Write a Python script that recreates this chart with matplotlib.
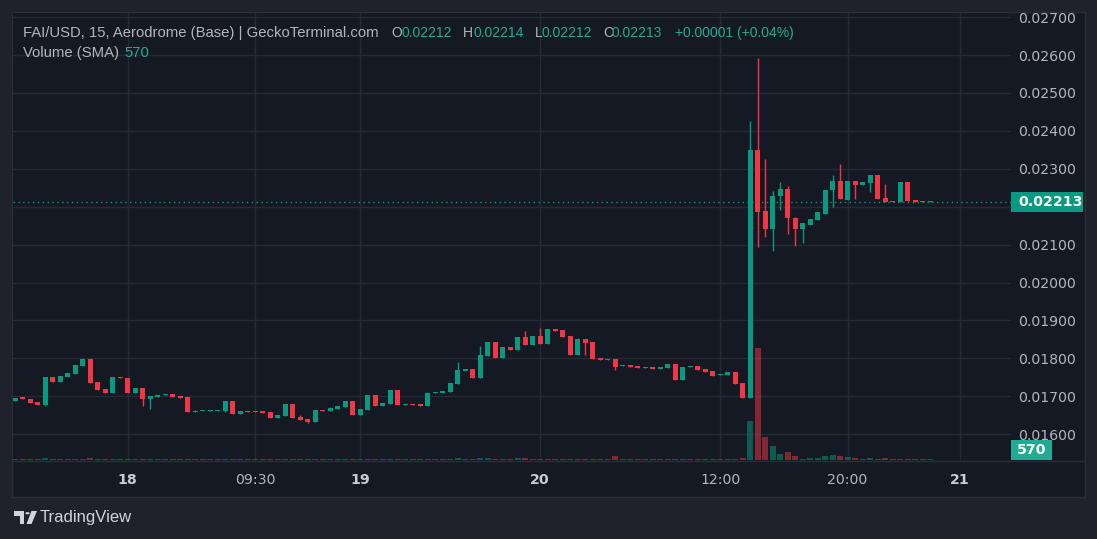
import numpy as np
import matplotlib.pyplot as plt
from matplotlib.patches import Rectangle, Polygon, Circle
from matplotlib.transforms import blended_transform_factory

W, H = 1097, 539

# FAI/USD 15 min candles, prices in 1e-5 USD, oldest first
opens = [1688, 1695, 1693, 1685, 1677, 1751, 1738, 1751, 1759, 1780,
         1798, 1738, 1719, 1709, 1751, 1748, 1709, 1722, 1693, 1699,
         1703, 1706, 1701, 1698, 1658, 1661, 1661, 1661, 1661, 1688,
         1653, 1661, 1661, 1658, 1658, 1643, 1648, 1680, 1645, 1640,
         1632, 1664, 1661, 1666, 1672, 1688, 1651, 1664, 1703, 1674,
         1680, 1717, 1677, 1680, 1680, 1674, 1708, 1708, 1711, 1732,
         1767, 1772, 1748, 1806, 1843, 1801, 1830, 1822, 1856, 1835,
         1859, 1838, 1877, 1875, 1859, 1809, 1851, 1843, 1801, 1796,
         1798, 1780, 1782, 1780, 1775, 1777, 1772, 1775, 1785, 1743,
         1777, 1780, 1772, 1767, 1757, 1756, 1764, 1735, 1696, 2350,
         2188, 2142, 2227, 2247, 2171, 2142, 2153, 2166, 2182, 2244,
         2268, 2218, 2268, 2258, 2263, 2284, 2224, 2216, 2213, 2266,
         2218, 2216, 2212]
highs = [1695, 1695, 1693, 1685, 1751, 1751, 1753, 1761, 1782, 1798,
         1798, 1738, 1719, 1751, 1751, 1748, 1722, 1722, 1701, 1703,
         1706, 1706, 1701, 1698, 1664, 1664, 1664, 1664, 1688, 1688,
         1661, 1661, 1661, 1658, 1658, 1651, 1680, 1680, 1651, 1640,
         1664, 1664, 1672, 1674, 1688, 1688, 1666, 1703, 1703, 1682,
         1717, 1717, 1680, 1680, 1680, 1708, 1711, 1714, 1735, 1790,
         1772, 1772, 1833, 1843, 1843, 1830, 1830, 1856, 1872, 1859,
         1880, 1877, 1877, 1875, 1859, 1853, 1851, 1843, 1801, 1798,
         1798, 1782, 1782, 1780, 1777, 1777, 1777, 1785, 1785, 1777,
         1780, 1780, 1772, 1767, 1760, 1764, 1764, 1735, 2425, 2592,
         2326, 2242, 2266, 2255, 2174, 2156, 2168, 2185, 2244, 2284,
         2313, 2268, 2268, 2266, 2284, 2284, 2261, 2216, 2266, 2266,
         2218, 2216, 2214]
lows = [1688, 1694, 1682, 1677, 1674, 1738, 1738, 1751, 1759, 1780,
        1735, 1717, 1709, 1709, 1749, 1709, 1709, 1674, 1666, 1699,
        1703, 1698, 1695, 1658, 1658, 1661, 1661, 1661, 1658, 1653,
        1653, 1659, 1659, 1657, 1643, 1643, 1648, 1643, 1637, 1629,
        1632, 1661, 1661, 1666, 1672, 1651, 1651, 1664, 1674, 1674,
        1680, 1677, 1677, 1677, 1674, 1674, 1708, 1708, 1711, 1732,
        1767, 1748, 1748, 1806, 1801, 1801, 1822, 1822, 1835, 1835,
        1838, 1838, 1872, 1856, 1809, 1809, 1809, 1798, 1796, 1796,
        1769, 1780, 1777, 1775, 1775, 1772, 1772, 1775, 1743, 1743,
        1777, 1769, 1764, 1753, 1757, 1756, 1732, 1696, 1696, 2093,
        2119, 2084, 2192, 2129, 2095, 2103, 2153, 2166, 2182, 2198,
        2219, 2218, 2221, 2258, 2239, 2221, 2213, 2213, 2213, 2216,
        2213, 2213, 2212]
closes = [1695, 1694, 1682, 1677, 1751, 1738, 1753, 1761, 1782, 1798,
          1735, 1717, 1709, 1751, 1749, 1709, 1722, 1693, 1701, 1703,
          1706, 1698, 1695, 1658, 1662, 1664, 1664, 1664, 1688, 1653,
          1661, 1659, 1659, 1657, 1643, 1651, 1680, 1643, 1637, 1632,
          1664, 1661, 1669, 1674, 1688, 1651, 1666, 1703, 1674, 1682,
          1717, 1677, 1680, 1677, 1674, 1708, 1711, 1714, 1735, 1769,
          1772, 1748, 1809, 1843, 1801, 1830, 1822, 1856, 1835, 1859,
          1838, 1877, 1872, 1856, 1809, 1851, 1840, 1798, 1796, 1798,
          1777, 1782, 1777, 1775, 1777, 1772, 1777, 1785, 1743, 1777,
          1780, 1769, 1764, 1753, 1760, 1764, 1732, 1696, 2350, 2187,
          2142, 2229, 2247, 2169, 2142, 2156, 2168, 2185, 2244, 2268,
          2219, 2268, 2258, 2266, 2284, 2221, 2213, 2213, 2266, 2216,
          2213, 2213, 2213]
volumes = [300, 250, 560, 300, 1000, 300, 250, 300, 560, 300,
           1000, 560, 300, 250, 300, 300, 250, 560, 300, 250,
           300, 250, 300, 300, 250, 300, 250, 300, 300, 300,
           250, 300, 300, 250, 300, 300, 250, 300, 300, 250,
           300, 250, 300, 300, 250, 300, 300, 250, 300, 250,
           300, 300, 250, 300, 250, 300, 250, 300, 300, 860,
           300, 300, 860, 860, 300, 250, 300, 860, 860, 300,
           300, 250, 300, 300, 250, 300, 300, 250, 300, 300,
           1700, 300, 250, 300, 300, 250, 300, 250, 300, 300,
           250, 300, 300, 250, 300, 300, 250, 860, 16800, 48200,
           10000, 6000, 2600, 3600, 1850, 560, 1000, 1000, 1850, 2300,
           1850, 1150, 700, 400, 900, 500, 700, 400, 600, 500,
           450, 400, 570]

time_ticks = [15, 32, 46, 70, 94, 111, 126]   # bar index of each label
time_labels = ['18', '09:30', '19', '20', '12:00', '20:00', '21']
price_ticks = [0.016, 0.017, 0.018, 0.019, 0.020, 0.021, 0.022,
               0.023, 0.024, 0.025, 0.026, 0.027]
last_price = 0.02213
vol_sma = 570
legend_ohlc = ['0.02212', '0.02214', '0.02212', '0.02213']
legend_change = '+0.00001 (+0.04%)'

UP = '#089981'
DOWN = '#f23645'
TEAL = '#22ab94'
BG = '#151924'
OUTER = '#1f222d'
GRID = '#262a35'
TXT = '#b2b5be'


def fx(x):
    return x / W


def fy(y):
    return 1 - y / H


o = np.array(opens) / 1e5
h = np.array(highs) / 1e5
l = np.array(lows) / 1e5
c = np.array(closes) / 1e5
idx = np.arange(len(o))
colors = np.where(c >= o, UP, DOWN)

fig = plt.figure(figsize=(W / 100, H / 100), dpi=100, facecolor=OUTER)

# ── chart panel (plot + both scales) ─────────────────────────────────────────
fig.add_artist(Rectangle((fx(12), fy(497)), fx(1085) - fx(12), fy(12) - fy(497),
                         fc=BG, ec='#2a2e39', lw=1, zorder=-5))
fig.add_artist(plt.Line2D([fx(12), fx(1085)], [fy(460.5), fy(460.5)],
                          color='#2a2e39', lw=1, zorder=-4))

ax = fig.add_axes([fx(12.7), fy(460), fx(1011) - fx(12.7), fy(12.7) - fy(460)])
ax.set_facecolor(BG)
ax.set_xlim(-0.35, 132.8)
ax.set_ylim(0.015319, 0.027116)

# volume overlay shares the x scale (twinx moves the price ticks left, so set them after)
ax_v = ax.twinx()
ax_v.set_ylim(0, max(volumes) * 4)
ax_v.axis('off')

for s in ax.spines.values():
    s.set_visible(False)

ax.set_xticks(time_ticks)
ax.set_xticklabels(time_labels)
ax.set_yticks(price_ticks)
ax.set_yticklabels(['' if abs(p - 0.022) < 1e-9 else f'{p:.5f}' for p in price_ticks])
ax.yaxis.tick_right()
ax.tick_params(axis='y', labelleft=False, labelright=True, left=False, right=False)
ax.tick_params(length=0, colors=TXT, labelsize=10.2)
ax.tick_params(axis='x', pad=9)
ax.tick_params(axis='y', pad=5)
for lab in ax.get_xticklabels():
    if lab.get_text().isdigit():
        lab.set_fontweight('bold')
        lab.set_color('#c8cbd3')
ax.grid(True, color=GRID, lw=1)
ax.set_axisbelow(True)

# ── candles ──────────────────────────────────────────────────────────────────
ax.vlines(idx, l, h, colors=colors, lw=1, zorder=3)
body_lo = np.minimum(o, c)
body_h = np.maximum(np.abs(c - o), 3e-5)
ax.bar(idx, body_h, bottom=body_lo, width=0.66, color=colors, lw=0, zorder=4)

# volume bars
ax_v.bar(idx, volumes, width=0.8, color=colors, alpha=0.5, lw=0)

# last price line and label
ax.axhline(last_price, color=UP, lw=1, ls=(0, (1, 2.5)), zorder=2)
trans = blended_transform_factory(ax.transAxes, ax.transData)
axw = 1011 - 12.7
px_price = (0.027116 - 0.015319) / (460 - 12.7)
ax.add_patch(Rectangle((1.0, last_price - 10 * px_price), 72 / axw, 20 * px_price,
                       transform=trans, fc=UP, ec='none', clip_on=False, zorder=6))
ax.text(1.0 + 7 / axw, last_price, f'{last_price:.5f}', transform=trans,
        ha='left', va='center', color='white', fontsize=10.2, fontweight='bold',
        zorder=7, clip_on=False)

ax.add_patch(Rectangle((1.0, 0), 41 / axw, 20 / 447.3, transform=ax.transAxes,
                       fc=TEAL, ec='none', clip_on=False, zorder=6))
ax.text(1.0 + 20.5 / axw, 10 / 447.3, str(vol_sma), transform=ax.transAxes,
        ha='center', va='center', color='white', fontsize=10.2, fontweight='bold',
        zorder=7, clip_on=False)

# ── legend header ────────────────────────────────────────────────────────────
hdr = dict(fontsize=10, family='Liberation Sans', va='center')
fig.text(fx(23), fy(33), 'FAI/USD, 15, Aerodrome (Base) | GeckoTerminal.com',
         color=TXT, fontsize=10.7, family='Liberation Sans', va='center')
for key, val, xk, xv in zip('OHLC', legend_ohlc, [391, 463, 535, 603], [401, 473, 542, 612]):
    fig.text(fx(xk), fy(33), key, color=TXT, **hdr)
    fig.text(fx(xv), fy(33), val, color=TEAL, **hdr)
fig.text(fx(675), fy(33), legend_change, color=TEAL, **hdr)
fig.text(fx(23), fy(53), 'Volume (SMA)', color=TXT, fontsize=10.7,
         family='Liberation Sans', va='center')
fig.text(fx(124), fy(53), str(vol_sma), color=TEAL, fontsize=10.7,
         family='Liberation Sans', va='center')

# ── TradingView watermark ────────────────────────────────────────────────────
LOGO = '#d1d4dc'
fig.add_artist(Polygon([(fx(14), fy(511)), (fx(24), fy(511)), (fx(24), fy(524)),
                        (fx(19.5), fy(524)), (fx(19.5), fy(515.5)), (fx(14), fy(515.5))],
                       closed=True, fc=LOGO, ec='none'))
fig.add_artist(Circle((fx(27.5), fy(513.2)), 2.2 / W, fc=LOGO, ec='none'))
fig.add_artist(Polygon([(fx(31.5), fy(511)), (fx(37), fy(511)), (fx(31.5), fy(524)),
                        (fx(26.5), fy(524))], closed=True, fc=LOGO, ec='none'))
fig.text(fx(40), fy(517.5), 'TradingView', color=LOGO, fontsize=12,
         family='Liberation Sans', va='center')

fig.savefig('out.png', dpi=100, facecolor=OUTER)
